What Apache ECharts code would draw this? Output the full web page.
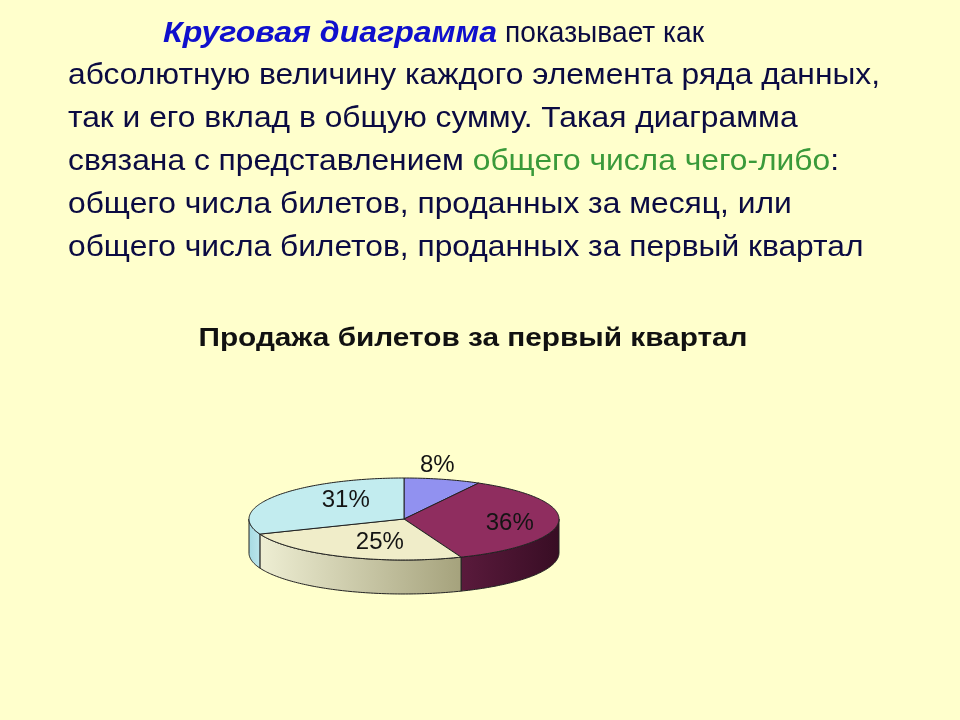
<!DOCTYPE html>
<html><head><meta charset="utf-8">
<script src="https://cdn.jsdelivr.net/npm/echarts@6/dist/echarts.min.js"></script>
<style>html,body{margin:0;padding:0;background:#FFFFCC}#c{width:960px;height:720px}</style>
</head><body><div id="c"></div>
<script>
// ---- data ----
const sliceNames = ['Сектор 1', 'Сектор 2', 'Сектор 3', 'Сектор 4'];
const sliceValues = [8, 36, 25, 31];
const chartTitle = 'Продажа билетов за первый квартал';
const introBold = 'Круговая диаграмма';
const introRest = 'показывает как';
const bodyLines = [
  'абсолютную величину каждого элемента ряда данных,',
  'так и его вклад в общую сумму. Такая диаграмма',
  'связана с представлением {g|общего числа чего-либо}:',
  'общего числа билетов, проданных за месяц, или',
  'общего числа билетов, проданных за первый квартал'
];

// ---- style / layout ----
const topColors = ['#9191F0', '#8F2D5F', '#F0EDC9', '#C2ECEF'];
const sideColors = [['#6F6FC8', '#5858B0'], ['#5A1A3C', '#380D24'], ['#EEEED3', '#A5A27C'], ['#A6DAE2', '#BCE6EC']];
const labelAnchors = [[0.215, -1.317], [0.682, 0.117], [-0.156, 0.573], [-0.376, -0.444]];
const PIE = { cx: 404, cy: 519, rx: 155, ry: 41, depth: 34 };
const NAVY = '#0B0B42';
const FS = 29;
const MID = 0.3465;
const baselines = [86, 129, 172, 215, 258];
const introBaseline = 44;

function measure(font, text) {
  const c = document.createElement('canvas').getContext('2d');
  c.font = font; return c.measureText(text).width;
}
const FAM = '"Liberation Sans", Arial, sans-serif';
const sBody = 812 / measure(FS + 'px ' + FAM, bodyLines[0]);
const sBold = 334 / measure('italic bold ' + FS + 'px ' + FAM, introBold);
const sRest = 199 / measure(FS + 'px ' + FAM, introRest);
const TFS = 25;
const sTitle = 549 / measure('bold ' + TFS + 'px ' + FAM, chartTitle);

const rich = {
  g: { fontFamily: FAM, fontSize: FS, fill: '#3A9A3A' }
};

const graphics = bodyLines.map((t, i) => ({
  type: 'text', x: 68, y: baselines[i] - MID * FS, scaleX: sBody, z: 10,
  style: { text: t, rich: rich, fontFamily: FAM, fontSize: FS, fill: NAVY, verticalAlign: 'middle', align: 'left' }
}));
graphics.push({
  type: 'text', x: 163, y: introBaseline - MID * FS, scaleX: sBold, z: 10,
  style: { text: introBold, fontFamily: FAM, fontSize: FS, fontWeight: 'bold', fontStyle: 'italic', fill: '#1010CC', verticalAlign: 'middle', align: 'left' }
});
graphics.push({
  type: 'text', x: 505, y: introBaseline - MID * FS, scaleX: sRest, z: 10,
  style: { text: introRest, fontFamily: FAM, fontSize: FS, fill: NAVY, verticalAlign: 'middle', align: 'left' }
});
graphics.push({
  type: 'text', x: 473, y: 348 - MID * TFS, scaleX: sTitle, z: 10,
  style: { text: chartTitle, fontFamily: FAM, fontSize: TFS, fontWeight: 'bold', fill: '#111111', align: 'center', verticalAlign: 'middle' }
});

function pt(t, dy) {
  return [PIE.cx + PIE.rx * Math.sin(t), PIE.cy - PIE.ry * Math.cos(t) + (dy || 0)];
}
function arc(a, b, dy) {
  const pts = []; const n = Math.max(2, Math.ceil((b - a) / (Math.PI / 180)));
  for (let k = 0; k <= n; k++) pts.push(pt(a + (b - a) * k / n, dy));
  return pts;
}

const chart = echarts.init(document.getElementById('c'), null, { renderer: 'canvas' });
chart.setOption({
  backgroundColor: '#FFFFCC',
  animation: false,
  graphic: graphics,
  series: [{
    type: 'custom',
    coordinateSystem: 'none',
    data: sliceValues.map((v, i) => ({ name: sliceNames[i], value: v })),
    renderItem: function (params, api) {
      const i = params.dataIndex;
      const total = sliceValues.reduce((a, b) => a + b, 0);
      let cum = 0; for (let k = 0; k < i; k++) cum += sliceValues[k];
      const v = api.value(0);
      const a0 = cum / total * 2 * Math.PI, a1 = (cum + v) / total * 2 * Math.PI;
      const children = [];
      const s0 = Math.max(a0, Math.PI / 2), s1 = Math.min(a1, 3 * Math.PI / 2);
      if (s1 > s0) {
        const pts = arc(s0, s1, 0).concat(arc(s0, s1, PIE.depth).reverse());
        children.push({
          type: 'polygon', z2: 1, shape: { points: pts },
          style: {
            fill: new echarts.graphic.LinearGradient(0, 0, 1, 0, [
              { offset: 0, color: sideColors[i][0] }, { offset: 1, color: sideColors[i][1] }]),
            stroke: '#222222', lineWidth: 1
          }
        });
      }
      const topPts = [[PIE.cx, PIE.cy]].concat(arc(a0, a1, 0));
      children.push({
        type: 'polygon', z2: 2, shape: { points: topPts },
        style: { fill: topColors[i], stroke: '#222222', lineWidth: 1, lineJoin: 'round' }
      });
      const la = labelAnchors[i];
      children.push({
        type: 'text', z2: 5,
        x: PIE.cx + PIE.rx * la[0], y: PIE.cy + PIE.ry * la[1],
        style: {
          text: Math.round(v / total * 100) + '%', fontFamily: FAM, fontSize: 24,
          fill: '#141414', align: 'center', verticalAlign: 'middle'
        }
      });
      return { type: 'group', children: children };
    }
  }]
});
</script>
</body></html>
